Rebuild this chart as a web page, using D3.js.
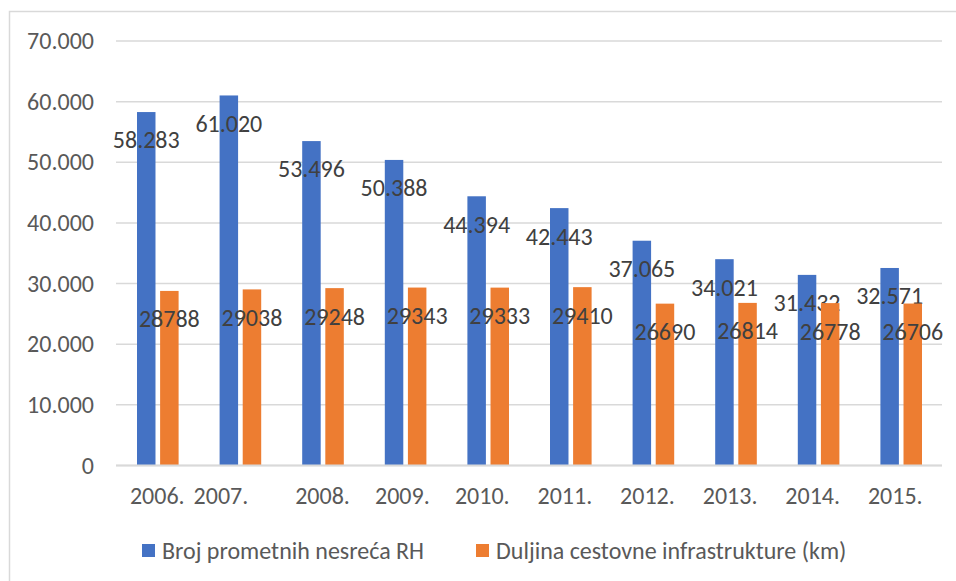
<!DOCTYPE html>
<html>
<head>
<meta charset="utf-8">
<script src="https://cdn.jsdelivr.net/npm/d3@7"></script>
<style>
  body { margin: 0; background: #fff; }
  text { font-family: Carlito, Calibri, Lato, sans-serif; }
</style>
</head>
<body>
<svg id="chart"></svg>
<script>
// years as shown on the axis (some source labels carry trailing spaces)
var years = ["2006.", "2007.\u00a0\u00a0\u00a0\u00a0\u00a0\u00a0\u00a0", "2008.", "2009.\u00a0",
    "2010.\u00a0\u00a0", "2011.\u00a0\u00a0", "2012.\u00a0\u00a0", "2013.\u00a0\u00a0",
    "2014.\u00a0\u00a0", "2015.\u00a0\u00a0"];
var nesrece = [58283, 61020, 53496, 50388, 44394, 42443, 37065, 34021, 31432, 32571];
var ceste = [28788, 29038, 29248, 29343, 29333, 29410, 26690, 26814, 26778, 26706];
var seriesNames = ["Broj prometnih nesreća RH", "Duljina cestovne infrastrukture (km)"];
var seriesColors = ["#4472c4", "#ed7d31"];
var yTicks = [0, 10000, 20000, 30000, 40000, 50000, 60000, 70000];

var svgWidth = 956, svgHeight = 581;
var plotLeft = 116, plotRight = 942, plotTop = 41, plotBottom = 465.5;
var fontSize = "24px";

var svg = d3.select("#chart")
    .attr("width", svgWidth)
    .attr("height", svgHeight);

// chart frame
svg.append("path")
    .attr("d", "M9.5," + svgHeight + "V11.5H" + svgWidth)
    .attr("fill", "none")
    .attr("stroke", "#d9d9d9")
    .attr("stroke-width", 1.5);

var dotFmt = function(v){
    return d3.format(",")(v).replace(/,/g, ".");
};

var xScale = d3.scaleBand()
    .domain(d3.range(years.length))
    .range([plotLeft, plotRight]);

var inner = d3.scaleBand()
    .domain([0, 1])
    .range([21, xScale.bandwidth() - 20])
    .paddingInner(0.2);

var yScale = d3.scaleLinear()
    .domain([0, 70000])
    .range([plotBottom, plotTop]);

// gridlines
svg.append("g")
    .selectAll("line")
    .data(yTicks)
    .enter()
    .append("line")
    .attr("x1", plotLeft)
    .attr("x2", plotRight)
    .attr("y1", function(d){ return yScale(d); })
    .attr("y2", function(d){ return yScale(d); })
    .attr("stroke", "#d9d9d9")
    .attr("stroke-width", 1.5);

// y axis labels
var yAxis = svg.append("g")
    .attr("transform", "translate(" + (plotLeft - 22) + ",0)")
    .call(d3.axisLeft(yScale)
        .tickValues(yTicks)
        .tickSize(0)
        .tickPadding(0)
        .tickFormat(function(d){ return d === 0 ? "0" : dotFmt(d); }));
yAxis.select(".domain").remove();
yAxis.selectAll("text")
    .attr("fill", "#595959")
    .attr("font-size", fontSize);

// bars
var allSeries = [nesrece, ceste];
allSeries.forEach(function(values, s){
    var g = svg.append("g");
    g.selectAll("rect")
        .data(values)
        .enter()
        .append("rect")
        .attr("x", function(d, i){ return xScale(i) + inner(s); })
        .attr("width", inner.bandwidth())
        .attr("y", function(d){ return yScale(d); })
        .attr("height", function(d){ return yScale(0) - yScale(d); })
        .attr("fill", seriesColors[s]);

    g.selectAll("text")
        .data(values)
        .enter()
        .append("text")
        .attr("x", function(d, i){ return xScale(i) + inner(s) + inner.bandwidth() / 2; })
        .attr("y", function(d){ return yScale(d) + 28; })
        .attr("dy", "0.35em")
        .attr("text-anchor", "middle")
        .attr("fill", "#404040")
        .attr("font-size", fontSize)
        .text(function(d){ return s === 0 ? dotFmt(d) : String(d); });
});

// x axis line
svg.append("line")
    .attr("x1", plotLeft)
    .attr("x2", plotRight)
    .attr("y1", yScale(0))
    .attr("y2", yScale(0))
    .attr("stroke", "#d9d9d9")
    .attr("stroke-width", 2);

// x axis labels
var xAxis = svg.append("g")
    .attr("transform", "translate(0," + (yScale(0) + 21) + ")")
    .call(d3.axisBottom(xScale)
        .tickSize(0)
        .tickPadding(0)
        .tickFormat(function(i){ return years[i]; }));
xAxis.select(".domain").remove();
xAxis.selectAll("text")
    .attr("fill", "#595959")
    .attr("font-size", fontSize)
    .style("white-space", "pre");

// legend
var legendX = [142, 476];
var legend = svg.append("g");
seriesNames.forEach(function(name, s){
    legend.append("rect")
        .attr("x", legendX[s])
        .attr("y", 544)
        .attr("width", 13)
        .attr("height", 13)
        .attr("fill", seriesColors[s]);
    legend.append("text")
        .attr("x", legendX[s] + 20)
        .attr("y", 550.5)
        .attr("dy", "0.35em")
        .attr("fill", "#595959")
        .attr("font-size", fontSize)
        .text(name);
});
</script>
</body>
</html>
